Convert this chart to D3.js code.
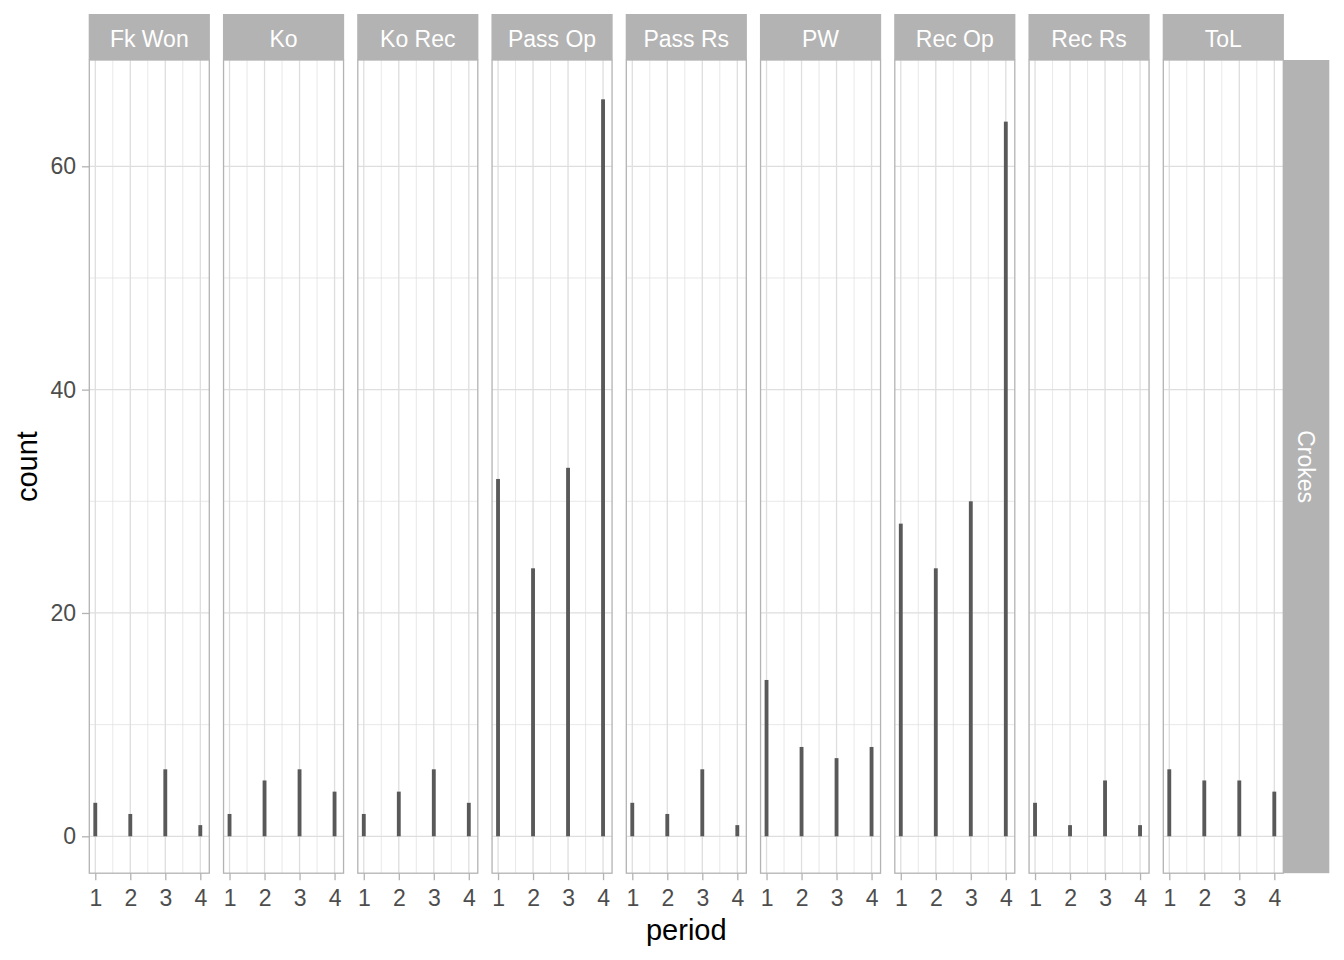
<!DOCTYPE html>
<html><head><meta charset="utf-8">
<script src="https://cdn.jsdelivr.net/npm/d3@7"></script>
<style>body{margin:0;background:#fff;} text{font-family:"Liberation Sans",Arial,sans-serif;}</style>
</head><body>
<script>
const facets = ["Fk Won","Ko","Ko Rec","Pass Op","Pass Rs","PW","Rec Op","Rec Rs","ToL"];
const periods = [1,2,3,4];
const rowLabel = "Crokes";
const fkWon  = [3,2,6,1];
const ko     = [2,5,6,4];
const koRec  = [2,4,6,3];
const passOp = [32,24,33,66];
const passRs = [3,2,6,1];
const pw     = [14,8,7,8];
const recOp  = [28,24,30,64];
const recRs  = [3,1,5,1];
const tol    = [6,5,5,4];
const seriesValues = [fkWon,ko,koRec,passOp,passRs,pw,recOp,recRs,tol];
const yTicks = [0,20,40,60];
const yMinor = [10,30,50];
const xTicks = [1,2,3,4];
const xMinor = [1.5,2.5,3.5];

(function(){
const W=1344,H=960;
const svg=d3.select("body").append("svg").attr("width",W).attr("height",H);
const pTop=60,pBottom=873.2,left0=89.3,pw_=120,step=134.25;
const stripTop=14;
const barHalf=0.055;
const y=d3.scaleLinear().domain([-3.3,69.3]).range([873.15,62.45]);

facets.forEach((f,i)=>{
  const L=left0+i*step;
  const x=d3.scaleLinear().domain([0.829,4.257]).range([L,L+pw_]);
  const g=svg.append("g");
  g.selectAll(".ymin").data(yMinor).join("line").attr("x1",L).attr("x2",L+pw_)
   .attr("y1",d=>y(d)).attr("y2",d=>y(d)).attr("stroke","#dedede").attr("stroke-width",0.7);
  g.selectAll(".xmin").data(xMinor).join("line").attr("y1",pTop).attr("y2",pBottom)
   .attr("x1",d=>x(d)).attr("x2",d=>x(d)).attr("stroke","#dedede").attr("stroke-width",0.7);
  g.selectAll(".ymaj").data(yTicks).join("line").attr("x1",L).attr("x2",L+pw_)
   .attr("y1",d=>y(d)).attr("y2",d=>y(d)).attr("stroke","#dedede").attr("stroke-width",1.3);
  g.selectAll(".xmaj").data(xTicks).join("line").attr("y1",pTop).attr("y2",pBottom)
   .attr("x1",d=>x(d)).attr("x2",d=>x(d)).attr("stroke","#dedede").attr("stroke-width",1.3);
  g.selectAll(".bar").data(periods.map((p,j)=>({p,v:seriesValues[i][j]}))).join("rect")
   .attr("x",d=>x(d.p-barHalf)).attr("width",d=>x(d.p+barHalf)-x(d.p-barHalf))
   .attr("y",d=>y(d.v)).attr("height",d=>y(0)-y(d.v)).attr("fill","#595959");
  g.append("rect").attr("x",L).attr("y",pTop).attr("width",pw_).attr("height",pBottom-pTop)
   .attr("fill","none").attr("stroke","#b3b3b3").attr("stroke-width",1.3);
  g.append("rect").attr("x",L-0.6).attr("y",stripTop).attr("width",pw_+1.2).attr("height",pTop-stripTop).attr("fill","#b3b3b3");
  g.append("text").attr("x",L+pw_/2).attr("y",(stripTop+pTop)/2+2).attr("dy","0.36em")
   .attr("text-anchor","middle").attr("fill","#ffffff").attr("font-size",23).text(f);
  const ax=d3.axisBottom(x).tickValues(xTicks).tickSize(7).tickPadding(9).tickFormat(d3.format("d"));
  const axg=svg.append("g").attr("transform",`translate(0,${pBottom})`).call(ax);
  axg.select(".domain").remove();
  axg.selectAll(".tick line").attr("stroke","#b3b3b3").attr("stroke-width",1.3);
  axg.selectAll(".tick text").attr("fill","#4d4d4d").attr("font-size",23)
     .attr("font-family","'Liberation Sans',Arial,sans-serif");
});
const lastR=left0+8*step+pw_;
svg.append("rect").attr("x",lastR).attr("y",pTop).attr("width",46).attr("height",pBottom-pTop).attr("fill","#b3b3b3");
svg.append("text").attr("transform",`translate(${lastR+23},${(pTop+pBottom)/2}) rotate(90)`)
  .attr("dy","0.36em").attr("text-anchor","middle").attr("fill","#fff").attr("font-size",23).text(rowLabel);
const ay=d3.axisLeft(y).tickValues(yTicks).tickSize(7.3).tickPadding(6);
const ayg=svg.append("g").attr("transform",`translate(${left0},0)`).call(ay);
ayg.select(".domain").remove();
ayg.selectAll(".tick line").attr("stroke","#b3b3b3").attr("stroke-width",1.3);
ayg.selectAll(".tick text").attr("fill","#4d4d4d").attr("font-size",23)
   .attr("font-family","'Liberation Sans',Arial,sans-serif");
svg.append("text").attr("x",(left0+lastR)/2).attr("y",940).attr("text-anchor","middle")
  .attr("font-size",29).attr("fill","#000").text("period");
svg.append("text").attr("transform",`translate(37,${(pTop+pBottom)/2}) rotate(-90)`)
  .attr("text-anchor","middle").attr("font-size",29).attr("fill","#000").text("count");
})();
</script>
</body></html>
